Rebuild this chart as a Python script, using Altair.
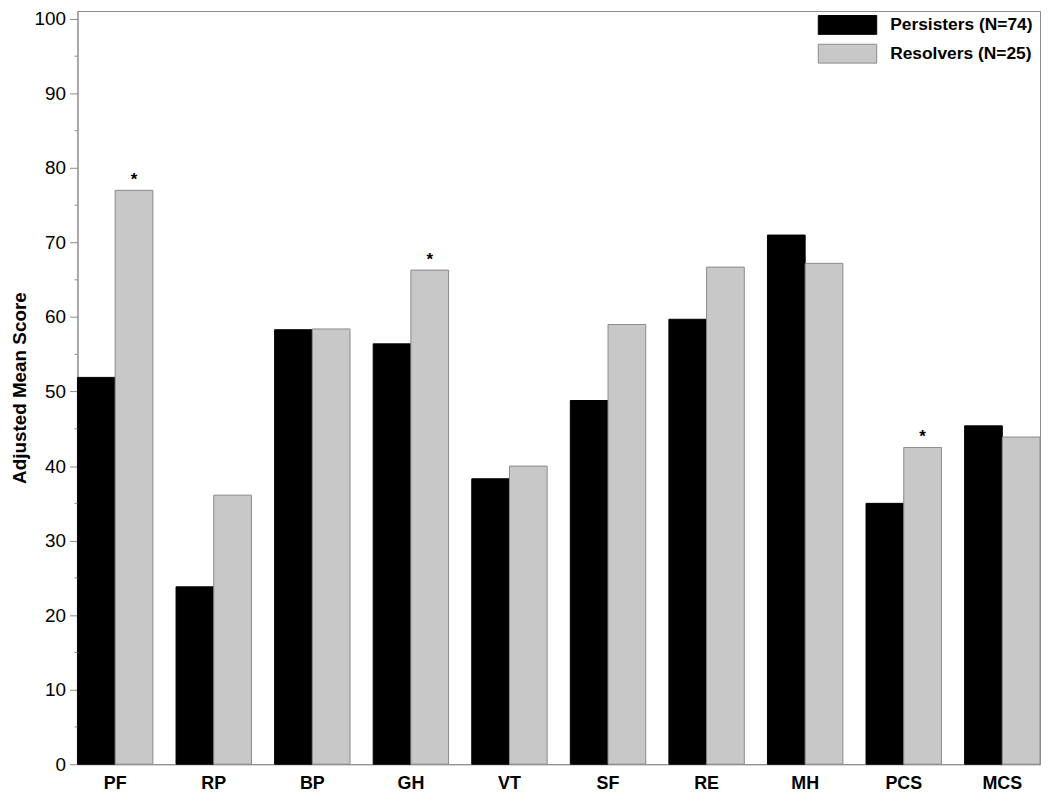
import altair as alt
import pandas as pd

categories = ["PF", "RP", "BP", "GH", "VT", "SF", "RE", "MH", "PCS", "MCS"]
persisters = [51.9, 23.8, 58.3, 56.4, 38.3, 48.8, 59.7, 71.0, 35.0, 45.4]
resolvers = [77.0, 36.1, 58.4, 66.3, 40.0, 59.0, 66.7, 67.2, 42.5, 43.9]
groups = ["Persisters (N=74)", "Resolvers (N=25)"]
significant = ["PF", "GH", "PCS"]
major_ticks = [0, 10, 20, 30, 40, 50, 60, 70, 80, 90, 100]
minor_ticks = [5, 15, 25, 35, 45, 55, 65, 75, 85, 95]

rows = []
for c, p, r in zip(categories, persisters, resolvers):
    rows.append({"cat": c, "group": groups[0], "value": p})
    rows.append({"cat": c, "group": groups[1], "value": r})
df = pd.DataFrame(rows)

star_df = pd.DataFrame([
    {"cat": c, "group": groups[1], "value": r, "star": "*"}
    for c, r in zip(categories, resolvers) if c in significant
])
minor_df = pd.DataFrame({"v": minor_ticks})

FONT = "Liberation Sans"
GRAY_LINE = "#8c8c8c"

x_enc = alt.X("cat:N", sort=categories, title=None,
              scale=alt.Scale(paddingInner=0.235, paddingOuter=0),
              axis=alt.Axis(labelAngle=0, ticks=False, domainColor=GRAY_LINE,
                            labelFont=FONT, labelFontSize=18, labelFontWeight="bold",
                            labelColor="#000", labelPadding=10))
y_scale = alt.Scale(domain=[0, 101.06], nice=False, zero=True)
xoff = alt.XOffset("group:N", sort=groups,
                   scale=alt.Scale(paddingInner=0, paddingOuter=0))

bars = alt.Chart(df).mark_bar(strokeWidth=1).encode(
    x=x_enc,
    xOffset=xoff,
    y=alt.Y("value:Q", scale=y_scale, title="Adjusted Mean Score",
            axis=alt.Axis(values=major_ticks, grid=False, tickSize=8, tickColor=GRAY_LINE,
                          domainColor=GRAY_LINE, labelFont=FONT, labelFontSize=19,
                          labelColor="#000", labelPadding=4, titleFont=FONT,
                          titleFontSize=19, titleFontWeight="bold", titleColor="#000",
                          titlePadding=5)),
    color=alt.Color("group:N", sort=groups, title=None,
                    scale=alt.Scale(domain=groups, range=["#000000", "#c8c8c8"]),
                    legend=alt.Legend(orient="none", legendX=766, legendY=4,
                                      symbolType="M-3.1,-1H3.1V1H-3.1Z",
                                      symbolSize=361, symbolStrokeWidth=1,
                                      labelFont=FONT, labelFontSize=17.5,
                                      labelFontWeight="bold", labelColor="#000",
                                      labelOffset=33, rowPadding=5, padding=0)),
    stroke=alt.Stroke("group:N", sort=groups, legend=None,
                      scale=alt.Scale(domain=groups, range=["#000000", "#8a8a8a"])),
)

stars = alt.Chart(star_df).mark_text(font=FONT, fontSize=17, fontWeight="bold",
                                     dy=-10, baseline="middle", color="#000").encode(
    x=alt.X("cat:N", sort=categories),
    xOffset=alt.XOffset("group:N", sort=groups),
    y=alt.Y("value:Q", scale=y_scale),
    text="star:N",
)

minor = alt.Chart(minor_df).mark_rule(color=GRAY_LINE, strokeWidth=1).encode(
    x=alt.value(-3), x2=alt.value(0),
    y=alt.Y("v:Q", scale=y_scale),
)

chart = alt.layer(bars, stars, minor).properties(
    width=970, height=759,
    autosize=alt.AutoSizeParams(type="none"),
    padding={"left": 70, "top": 0, "right": 2, "bottom": 29},
).configure_view(stroke=GRAY_LINE, strokeWidth=1)

chart.save("out.html", embed_options={"renderer": "svg", "actions": False})
